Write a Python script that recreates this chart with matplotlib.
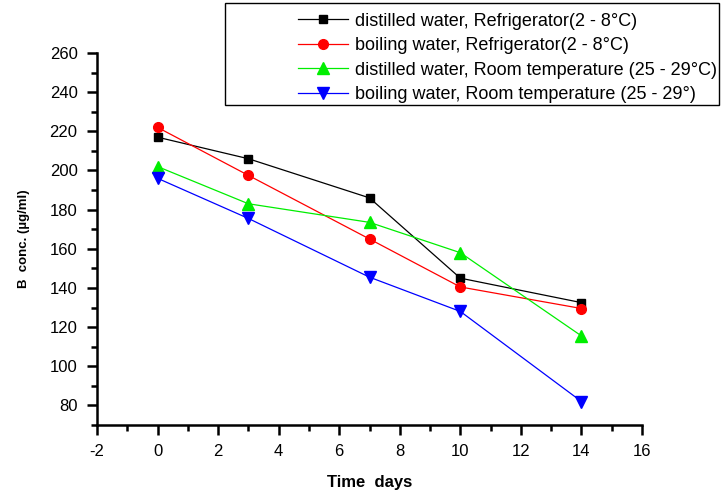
import matplotlib
matplotlib.use("Agg")
import matplotlib.pyplot as plt
from matplotlib.ticker import MultipleLocator
from matplotlib.patches import Rectangle

plt.rcParams['font.family'] = ['Liberation Sans', 'DejaVu Sans']
plt.rcParams['axes.unicode_minus'] = False

days = [0, 3, 7, 10, 14]
dist_fridge = [217, 206, 186, 145, 132.5]
boil_fridge = [222, 197.5, 165, 140.5, 129.5]
dist_room = [202, 183, 173.5, 158, 115.5]
boil_room = [196, 175.5, 145.5, 128, 82]

labels = [
    "distilled water, Refrigerator(2 - 8°C)",
    "boiling water, Refrigerator(2 - 8°C)",
    "distilled water, Room temperature (25 - 29°C)",
    "boiling water, Room temperature (25 - 29°)",
]

W, H = 721, 495
fig = plt.figure(figsize=(W / 100, H / 100), dpi=100)
ax = fig.add_axes([97 / W, 1 - 425 / H, (642 - 97) / W, (425 - 53) / H])

styles = [
    (dist_fridge, 'black', 's', 6),
    (boil_fridge, 'red', 'o', 7),
    (dist_room, '#00ee00', '^', 8),
    (boil_room, 'blue', 'v', 8),
]
for (vals, c, m, ms), lab in zip(styles, labels):
    ax.plot(days, vals, color=c, marker=m, markersize=ms, linewidth=0.9,
            markeredgecolor=c, markerfacecolor=c, label=lab)

ax.set_xlim(-2, 16)
ax.set_ylim(70, 260)
ax.xaxis.set_major_locator(MultipleLocator(2))
ax.xaxis.set_minor_locator(MultipleLocator(1))
ax.yaxis.set_minor_locator(MultipleLocator(10))
ax.set_yticks(range(80, 261, 20))

for s in ['top', 'right']:
    ax.spines[s].set_visible(False)
for s in ['left', 'bottom']:
    ax.spines[s].set_linewidth(1.8)
ax.tick_params(which='major', direction='out', length=7, width=1.8, labelsize=12, pad=7)
ax.tick_params(which='minor', direction='out', length=4, width=1.8)

ax.set_xlabel("Time  days", fontsize=12, fontweight='bold', labelpad=11)
ax.set_ylabel("B  conc. (µg/ml)", fontsize=9.5, fontweight='bold', labelpad=14)

# legend frame box
fig.patches.append(Rectangle((225 / W, 1 - 105 / H), (719 - 225) / W, 102 / H,
                             transform=fig.transFigure, fill=True, facecolor='white',
                             edgecolor='black', linewidth=1.0, zorder=5))
leg = fig.legend(loc='upper right', bbox_to_anchor=(721 / W, 1 - 9 / H),
                 fontsize=13, frameon=False, handlelength=2.8, borderaxespad=0,
                 labelspacing=0.42, borderpad=0.2, handletextpad=0.4)
leg.set_zorder(6)

fig.savefig("out.png", dpi=100)
